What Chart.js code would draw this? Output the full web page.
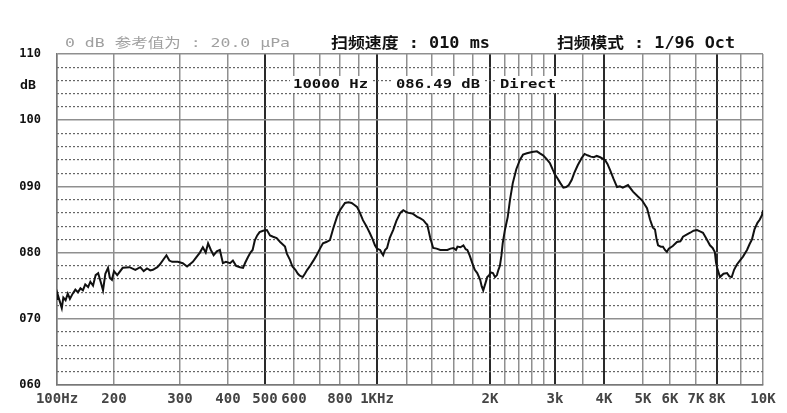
<!DOCTYPE html>
<html>
<head>
<meta charset="utf-8">
<script src="https://cdn.jsdelivr.net/npm/chart.js@4.4.1/dist/chart.umd.min.js"></script>
<style>
  html, body { margin: 0; padding: 0; background: #fff; }
  canvas { display: block; }
</style>
</head>
<body>
<canvas id="chart" width="787" height="413"></canvas>
<script>
// measured response, Hz / dB
const freqs = [
  100, 101, 104, 106, 108, 111, 114, 117, 121, 125, 129, 133, 137, 141, 146, 150, 155, 160, 165, 170,
  175, 180, 186, 190, 195, 200, 204, 211, 220, 228, 235, 240, 245, 250, 254, 261, 265, 276, 281, 286,
  296, 305, 313, 324, 331, 338, 344, 350, 355, 361, 367, 374, 381, 388, 395, 405, 412, 420, 430, 438,
  444, 451, 458, 464, 470, 477, 484, 494, 506, 516, 526, 538, 550, 567, 574, 585, 594, 605, 614, 621,
  632, 640, 649, 660, 675, 686, 700, 714, 730, 748, 766, 784, 800, 825, 843, 860, 875, 889, 905, 921,
  940, 958, 975, 988, 1000, 1019, 1030, 1038, 1050, 1063, 1080, 1103, 1125, 1152, 1173, 1190, 1210, 1240, 1278, 1300,
  1327, 1345, 1360, 1375, 1385, 1410, 1440, 1472, 1500, 1537, 1566, 1595, 1620, 1635, 1665, 1696, 1720, 1738, 1765, 1792,
  1820, 1848, 1882, 1900, 1918, 1940, 1966, 1990, 2010, 2038, 2065, 2090, 2110, 2130, 2150, 2168, 2200, 2238, 2270, 2309,
  2360, 2413, 2460, 2520, 2600, 2680, 2730, 2784, 2840, 2907, 2960, 3000, 3035, 3090, 3142, 3190, 3237, 3290, 3334, 3400,
  3474, 3536, 3600, 3680, 3750, 3820, 3904, 4023, 4080, 4140, 4220, 4310, 4380, 4455, 4589, 4722, 4850, 4972, 5137, 5243,
  5340, 5421, 5480, 5536, 5640, 5722, 5800, 5875, 5950, 6100, 6253, 6380, 6481, 6620, 6763, 6900, 7045, 7180, 7318, 7480,
  7650, 7780, 7890, 7950, 8000, 8118, 8260, 8404, 8500, 8600, 8700, 8821, 8950, 9086, 9262, 9380, 9487, 9600, 9738, 9850,
  9955, 10000
];
const levels = [
  73.0, 73.6, 72.4, 71.6, 73.2, 72.8, 73.8, 73.0, 73.8, 74.4, 74.0, 74.6, 74.3, 75.2, 74.8, 75.6, 75.0, 76.6, 76.9, 75.6,
  74.3, 76.8, 77.7, 76.2, 75.9, 77.2, 76.6, 77.7, 77.8, 77.4, 77.8, 77.2, 77.6, 77.3, 77.4, 77.8, 78.2, 79.6, 78.8, 78.6,
  78.6, 78.4, 77.9, 78.6, 79.3, 80.0, 80.8, 80.0, 81.4, 80.4, 79.6, 80.2, 80.4, 78.4, 78.6, 78.4, 78.8, 78.0, 77.8, 77.7,
  78.5, 79.3, 80.0, 80.4, 81.8, 82.6, 83.1, 83.3, 83.4, 82.6, 82.4, 82.2, 81.6, 80.9, 79.8, 78.9, 77.9, 77.4, 76.8, 76.5,
  76.3, 76.8, 77.4, 78.0, 78.9, 79.6, 80.6, 81.4, 81.6, 81.9, 83.8, 85.4, 86.4, 87.5, 87.6, 87.5, 87.2, 86.9, 86.0, 84.9,
  84.0, 83.0, 82.0, 81.1, 80.6, 80.4, 79.9, 79.6, 80.4, 80.7, 82.2, 83.4, 84.8, 86.0, 86.4, 86.2, 86.0, 85.9, 85.4, 85.2,
  84.9, 84.5, 84.2, 83.0, 82.2, 80.7, 80.6, 80.4, 80.4, 80.4, 80.6, 80.7, 80.4, 80.9, 80.8, 81.1, 80.5, 80.4, 79.5, 78.4,
  77.4, 76.9, 75.9, 74.9, 74.3, 75.2, 76.3, 76.6, 77.0, 76.9, 76.3, 76.6, 77.4, 78.0, 79.5, 81.4, 83.5, 85.4, 88.0, 90.5,
  92.6, 94.0, 94.8, 95.0, 95.2, 95.3, 95.0, 94.7, 94.2, 93.5, 92.5, 91.8, 91.3, 90.5, 89.8, 89.9, 90.2, 91.0, 92.0, 93.2,
  94.3, 94.9, 94.7, 94.5, 94.4, 94.6, 94.4, 94.0, 93.4, 92.5, 91.2, 89.9, 90.0, 89.8, 90.2, 89.2, 88.5, 87.9, 86.7, 85.0,
  83.8, 83.5, 82.0, 81.1, 80.9, 80.9, 80.4, 80.1, 80.6, 81.0, 81.6, 81.7, 82.4, 82.7, 83.0, 83.3, 83.4, 83.2, 83.0, 82.1,
  81.1, 80.7, 80.1, 78.5, 77.8, 76.3, 76.8, 76.9, 76.4, 76.3, 77.4, 78.2, 78.8, 79.4, 80.4, 81.3, 82.0, 83.5, 84.5, 85.0,
  85.7, 86.4
];

// vertical grid lines of the printout (Hz), where each one sits along the 706 px wide axis, and its label
const gridFreqs = [100, 200, 300, 400, 500, 600, 700, 800, 900, 1000, 1200, 1400, 1600, 1800, 2000,
                   2200, 2400, 2600, 2800, 3000, 3500, 4000, 5000, 6000, 7000, 8000, 9000, 10000];
const gridPos = [0, 57, 123, 171, 208, 237, 263, 283, 302, 320, 350, 375, 397, 416, 433,
                 448, 462, 475, 487, 498, 526, 547, 586, 613, 639, 660, 684, 706];
const gridLabels = ['100Hz', '200', '300', '400', '500', '600', '', '800', '', '1KHz', '', '', '', '', '2K',
                    '', '', '', '', '3k', '', '4K', '5K', '6K', '7K', '8K', '', '10K'];
const heavyFreqs = [500, 1000, 2000, 3000, 4000, 8000];

const yTicks = [110, 100, 90, 80, 70, 60];

// the printout's frequency axis is not a clean log axis, so go log-linear between its grid lines
function warp(f) {
  for (let i = 1; i < gridFreqs.length; i++) {
    if (f <= gridFreqs[i]) {
      const t = Math.log(f / gridFreqs[i - 1]) / Math.log(gridFreqs[i] / gridFreqs[i - 1]);
      return gridPos[i - 1] + t * (gridPos[i] - gridPos[i - 1]);
    }
  }
  return gridPos[gridPos.length - 1];
}

const points = freqs.map((f, i) => ({ x: warp(f), y: levels[i] }));

const MONO = '"DejaVu Sans Mono", "Noto Sans CJK SC", monospace';

function drawFit(ctx, text, x, y, w, font, color) {
  ctx.save();
  ctx.font = font;
  ctx.fillStyle = color;
  ctx.textBaseline = 'middle';
  const m = ctx.measureText(text).width;
  ctx.translate(x, y);
  ctx.scale(w / m, 1);
  ctx.fillText(text, 0, 0);
  ctx.restore();
}

const textPlugin = {
  id: 'texts',
  afterDraw(chart) {
    const ctx = chart.ctx;
    drawFit(ctx, '0 dB 参考值为 : 20.0 μPa', 65, 44, 225, '13px ' + MONO, '#a0a0a0');
    drawFit(ctx, '扫频速度 : 010 ms', 331, 44, 159, 'bold 15px ' + MONO, '#111');
    drawFit(ctx, '扫频模式 : 1/96 Oct', 557, 44, 178, 'bold 15px ' + MONO, '#111');
    drawFit(ctx, 'dB', 20, 86, 16, 'bold 12px ' + MONO, '#111');

    const boxes = [['10000 Hz', 293, 75], ['086.49 dB', 396, 84], ['Direct', 500, 56]];
    boxes.forEach(([t, x, w]) => {
      ctx.fillStyle = '#fff';
      ctx.fillRect(x - 3, 76, w + 6, 17);
      drawFit(ctx, t, x, 85, w, 'bold 13px ' + MONO, '#111');
    });
  }
};

new Chart(document.getElementById('chart'), {
  type: 'line',
  data: {
    datasets: [{
      data: points,
      borderColor: '#111',
      borderWidth: 2,
      pointRadius: 0,
      tension: 0,
      fill: false
    }]
  },
  options: {
    responsive: false,
    animation: false,
    layout: { padding: { top: 54, right: 24, left: 0, bottom: 0 } },
    plugins: { legend: { display: false }, tooltip: { enabled: false } },
    scales: {
      x: {
        type: 'linear',
        min: 0,
        max: 706,
        afterBuildTicks: s => { s.ticks = gridPos.map(v => ({ value: v })); },
        afterFit: s => { s.height = 28; },
        ticks: {
          autoSkip: false,
          maxRotation: 0,
          padding: 6,
          color: '#444',
          font: { family: MONO, size: 14, weight: 'bold' },
          callback: (v, i) => gridLabels[i]
        },
        grid: {
          drawTicks: false,
          color: c => heavyFreqs.includes(gridFreqs[c.index]) ? '#2a2a2a' : '#8f8f8f',
          lineWidth: c => heavyFreqs.includes(gridFreqs[c.index]) ? 2 : 1.5
        },
        border: { color: '#777', width: 1.5 }
      },
      yMinor: {
        position: 'left',
        min: 60,
        max: 110,
        afterFit: s => { s.width = 0; },
        ticks: { display: false, stepSize: 2 },
        grid: {
          drawTicks: false,
          color: c => (c.tick && c.tick.value % 10 === 0) ? 'rgba(0,0,0,0)' : '#666',
          lineWidth: 1.2
        },
        border: { display: false, dash: [2, 2] }
      },
      y: {
        position: 'left',
        min: 60,
        max: 110,
        afterBuildTicks: s => { s.ticks = yTicks.map(v => ({ value: v })); },
        afterFit: s => { s.width = 57; },
        ticks: {
          padding: 16,
          color: '#111',
          font: { family: MONO, size: 12, weight: 'bold' },
          callback: v => String(v).padStart(3, '0')
        },
        grid: { drawTicks: false, color: '#8f8f8f', lineWidth: 1.5 },
        border: { color: '#777', width: 1.5 }
      }
    }
  },
  plugins: [textPlugin]
});
</script>
</body>
</html>
